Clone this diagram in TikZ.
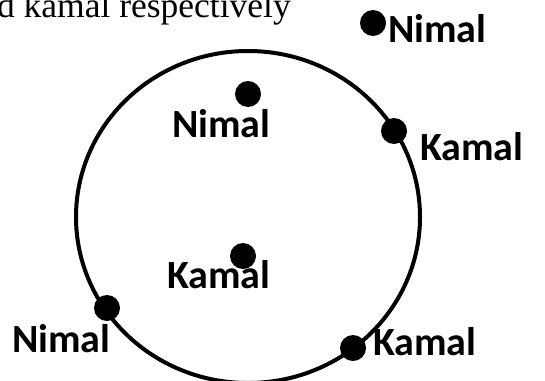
\documentclass[tikz,border=0pt]{standalone}
\usepackage{fontspec}
\setmainfont{Liberation Serif}
\newfontfamily\lblfont{Carlito}
\usetikzlibrary{positioning}

\begin{document}
\begin{tikzpicture}[
    x=1pt, y=-1pt,
    spot/.style={circle, fill=black, inner sep=0pt, minimum size=26pt},
    person/.style={font=\lblfont\bfseries\fontsize{40}{42}\selectfont, inner sep=0pt, anchor=base west},
    ring/.style={line width=4pt}
]
    \useasboundingbox (0,0) rectangle (545,380);

    % Caption line (cut off)
    \node[anchor=base east, inner sep=0pt, font=\fontsize{35.5}{38}\selectfont] (caption) at (291,17) {d kamal respectively};

    % Circle
    \coordinate (mid) at (248,217);
    \draw[ring] (mid) ellipse [x radius=172pt, y radius=166pt];

    % Dots
    \node[spot] (outside) at (373,23) {};
    \node[spot] (intop) at (248,94) {};
    \node[spot] (onright) at (394,131) {};
    \node[spot] (inlow) at (243,256) {};
    \node[spot] (onleft) at (107,308) {};
    \node[spot] (onlow) at (353,348) {};

    % Labels
    \node[person] (outsideN) at (388,42) {Nimal};
    \node[person] (intopN) at (172,137) {Nimal};
    \node[person] (onrightK) at (420,160) {Kamal};
    \node[person] (inlowK) at (167,288) {Kamal};
    \node[person] (onleftN) at (12,352) {Nimal};
    \node[person] (onlowK) at (373,355) {Kamal};

\end{tikzpicture}
\end{document}
